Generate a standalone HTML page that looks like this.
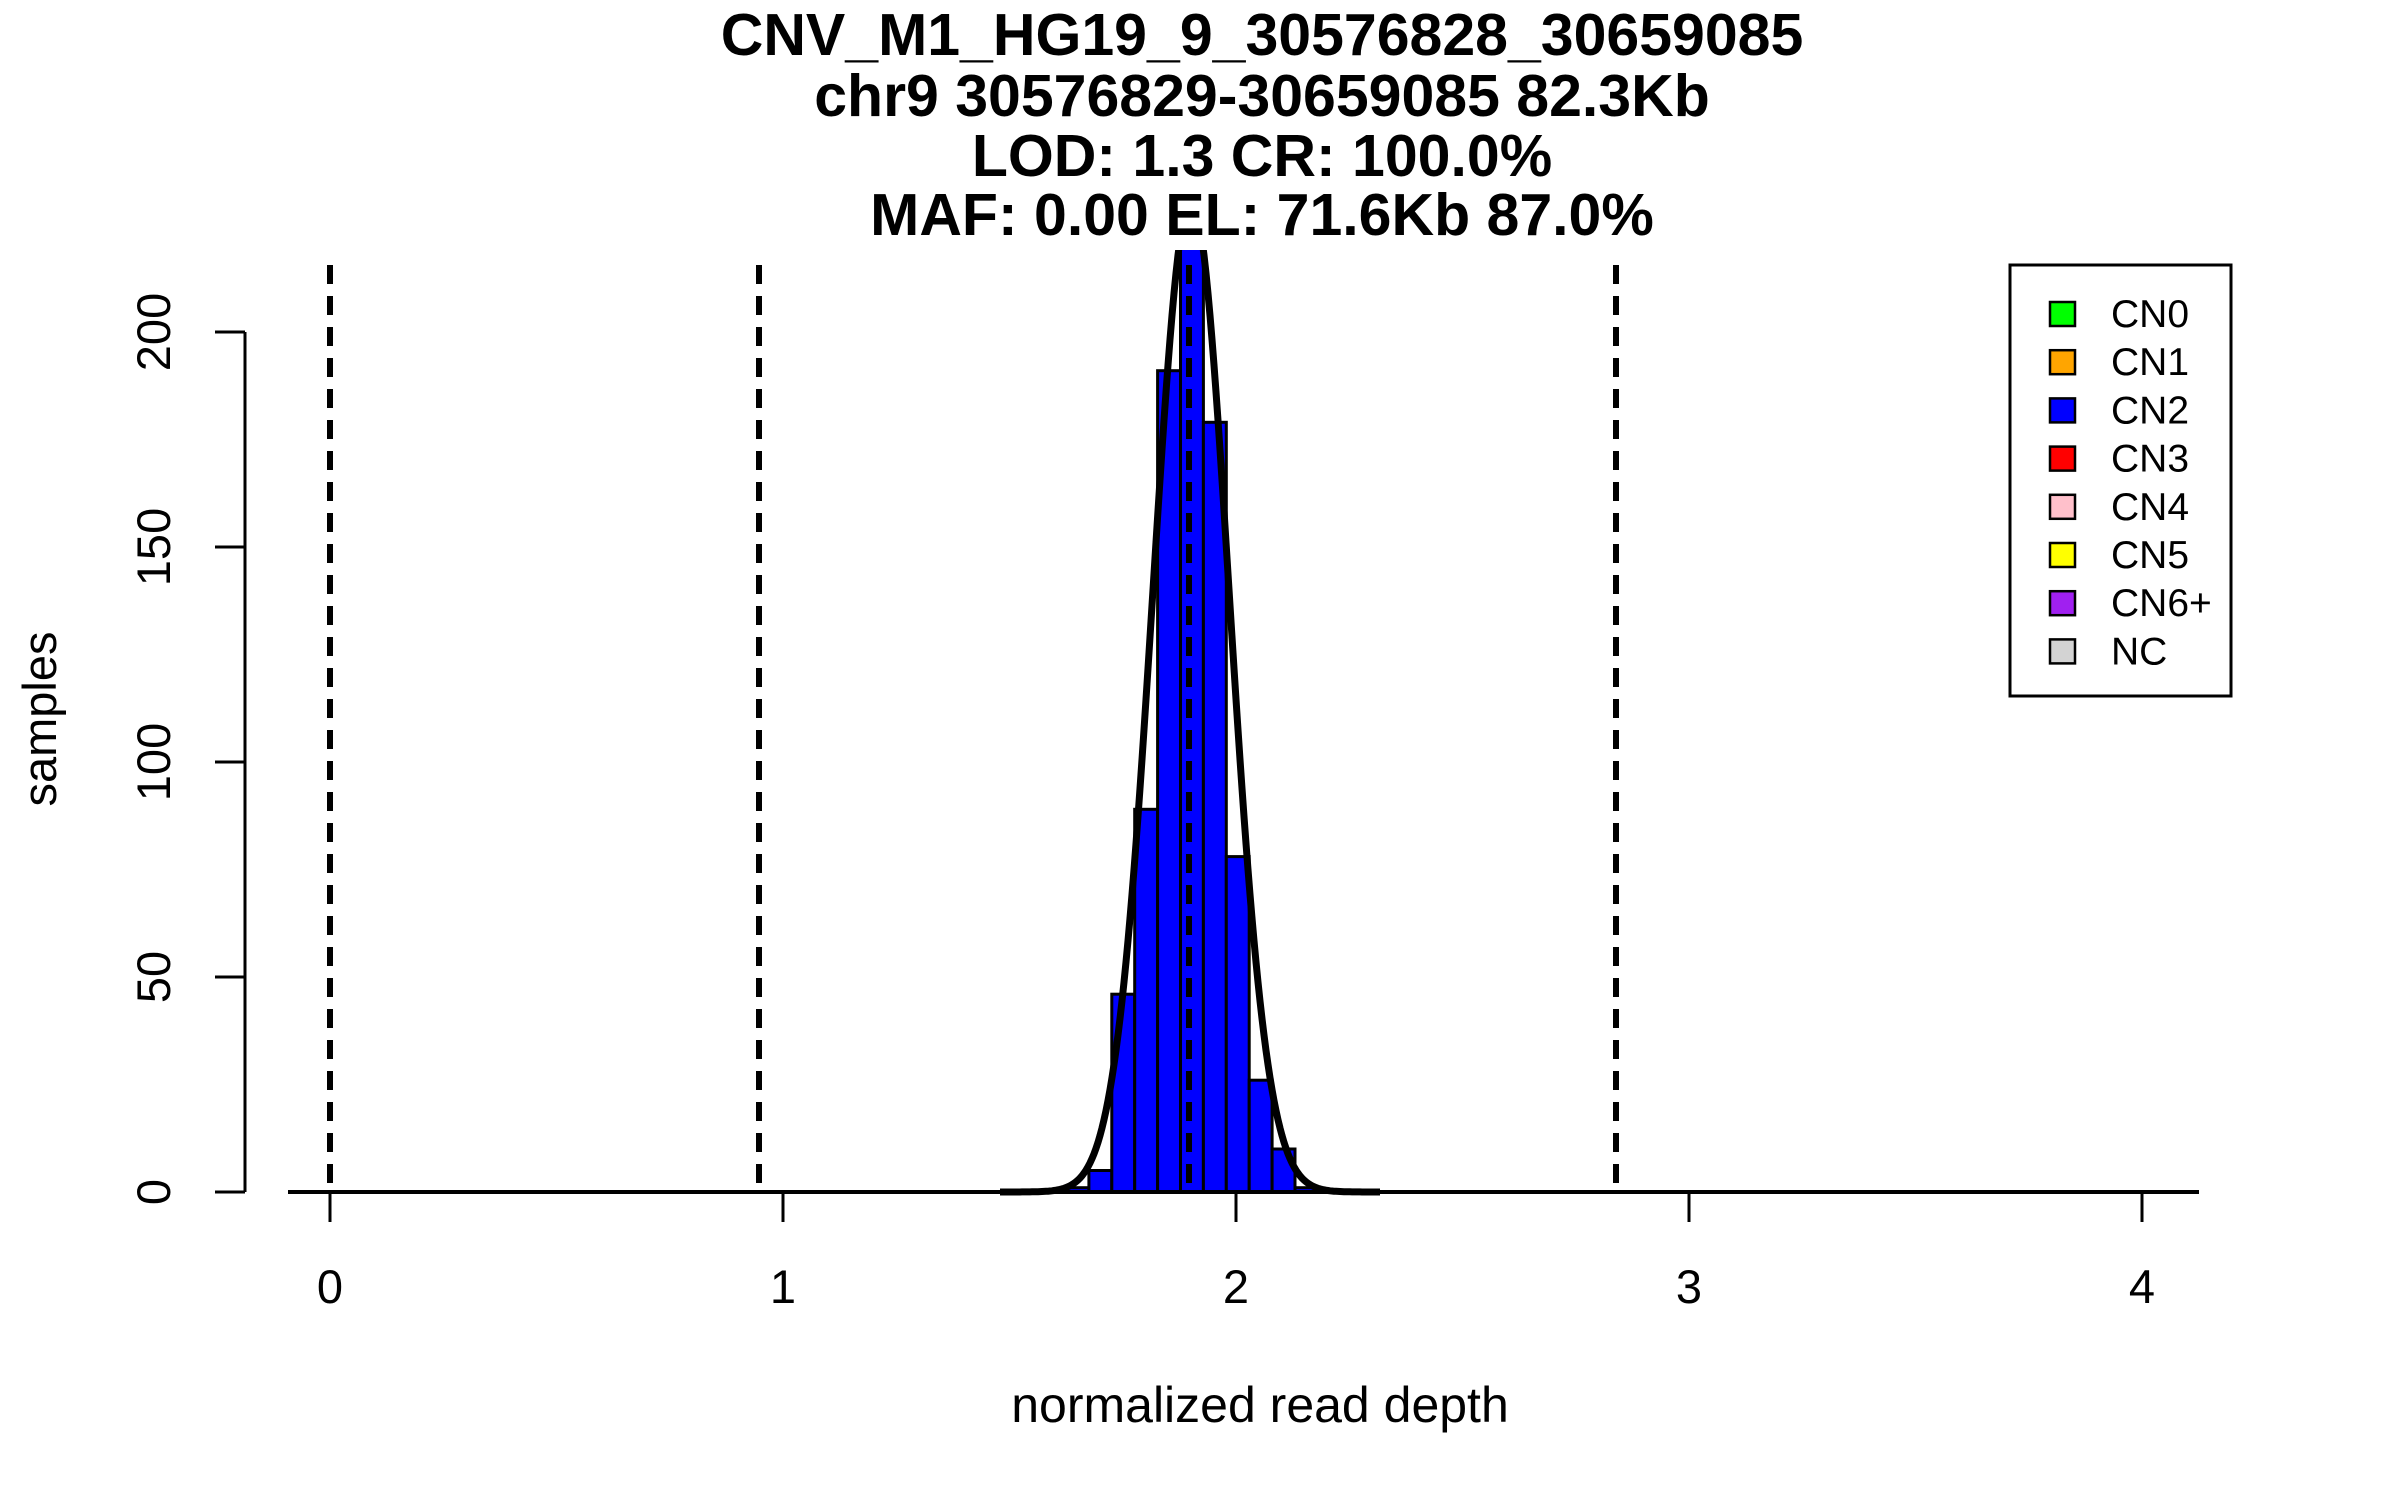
<!DOCTYPE html>
<html><head><meta charset="utf-8"><style>
html,body{margin:0;padding:0;background:#fff;width:2400px;height:1500px;overflow:hidden}
text{font-family:"Liberation Sans",Arial,sans-serif}
</style></head><body>
<svg id="s" width="2400" height="1500" xmlns="http://www.w3.org/2000/svg">
<defs><clipPath id="c"><rect x="0" y="250" width="2400" height="1000"/></clipPath></defs>
<g font-weight="bold" font-size="59" text-anchor="middle" fill="#000">
<text x="1262" y="55">CNV_M1_HG19_9_30576828_30659085</text>
<text x="1262" y="116">chr9 30576829-30659085 82.3Kb</text>
<text x="1262" y="176">LOD: 1.3 CR: 100.0%</text>
<text x="1262" y="235">MAF: 0.00 EL: 71.6Kb 87.0%</text>
</g>
<g id="bars" clip-path="url(#c)" stroke="#000" stroke-width="3" fill="#0000ff"></g>
<path id="curve" clip-path="url(#c)" fill="none" stroke="#000" stroke-width="7"/>
<g stroke="#000" stroke-width="6" stroke-dasharray="19,12">
<line x1="330" y1="265" x2="330" y2="1192"/>
<line x1="759" y1="265" x2="759" y2="1192"/>
<line x1="1189" y1="265" x2="1189" y2="1192"/>
<line x1="1616" y1="265" x2="1616" y2="1192"/>
</g>
<line x1="288" y1="1192" x2="2199" y2="1192" stroke="#000" stroke-width="4"/>
<g stroke="#000" stroke-width="3">
<line x1="245" y1="332" x2="245" y2="1192"/>
<line x1="215" y1="332" x2="245" y2="332"/>
<line x1="215" y1="547" x2="245" y2="547"/>
<line x1="215" y1="762" x2="245" y2="762"/>
<line x1="215" y1="977" x2="245" y2="977"/>
<line x1="215" y1="1192" x2="245" y2="1192"/>
<line x1="330" y1="1192" x2="330" y2="1222"/>
<line x1="783" y1="1192" x2="783" y2="1222"/>
<line x1="1236" y1="1192" x2="1236" y2="1222"/>
<line x1="1689" y1="1192" x2="1689" y2="1222"/>
<line x1="2142" y1="1192" x2="2142" y2="1222"/>
</g>
<g font-size="47" text-anchor="middle">
<text x="330" y="1303">0</text><text x="783" y="1303">1</text><text x="1236" y="1303">2</text><text x="1689" y="1303">3</text><text x="2142" y="1303">4</text>
<text transform="translate(170,1192) rotate(-90)">0</text>
<text transform="translate(170,977) rotate(-90)">50</text>
<text transform="translate(170,762) rotate(-90)">100</text>
<text transform="translate(170,547) rotate(-90)">150</text>
<text transform="translate(170,332) rotate(-90)">200</text>
<text x="1260" y="1422" font-size="50">normalized read depth</text>
<text transform="translate(56,719) rotate(-90)">samples</text>
</g>
<rect x="2010" y="265" width="221" height="431" fill="none" stroke="#000" stroke-width="3"/>
<g id="leg" font-size="39"></g>
</svg>
<script>
var b=document.getElementById('bars'),counts=[1,5,46,89,191,225,179,78,26,10,1];
for(var i=0;i<counts.length;i++){var x=1066+i*22.9,h=counts[i]*4.3;
var r=document.createElementNS('http://www.w3.org/2000/svg','rect');
r.setAttribute('x',x);r.setAttribute('y',1192-h);r.setAttribute('width',22.9);r.setAttribute('height',h);b.appendChild(r);}
var d='';for(var x=1000;x<=1380;x+=2){var y=1192-231*4.3*Math.exp(-Math.pow((x-1191)/38,2)/2);d+=(x==1000?'M':'L')+x+','+y.toFixed(1);}
document.getElementById('curve').setAttribute('d',d);
var L=document.getElementById('leg'),cols=['#00ff00','#ffa500','#0000ff','#ff0000','#ffc0cb','#ffff00','#a020f0','#d3d3d3'],labs=['CN0','CN1','CN2','CN3','CN4','CN5','CN6+','NC'];
for(var i=0;i<8;i++){var y=314+i*48.2;
L.innerHTML+='<rect x="2050" y="'+(y-12)+'" width="25" height="24" fill="'+cols[i]+'" stroke="#000" stroke-width="2.5"/><text x="2111" y="'+(y+13)+'">'+labs[i]+'</text>';}
</script>
</body></html>
